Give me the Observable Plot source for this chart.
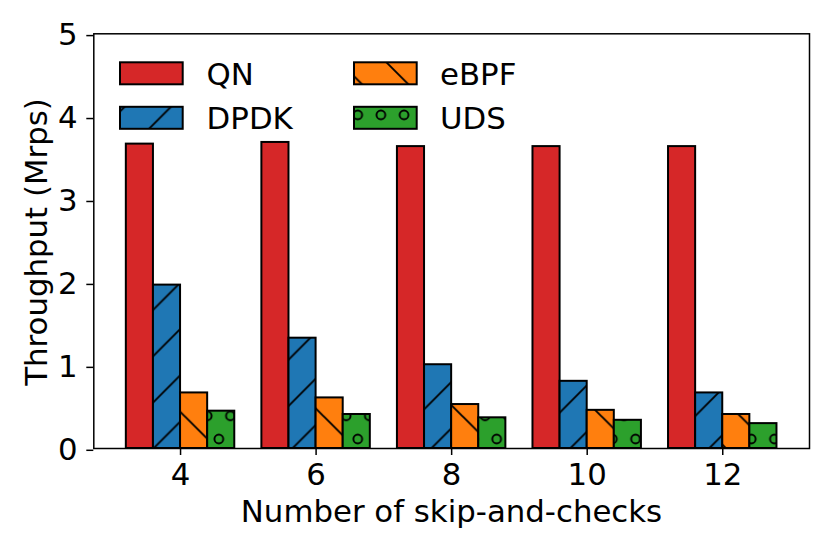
<!DOCTYPE html>
<html><head><meta charset="utf-8">
<script src="https://cdn.jsdelivr.net/npm/d3@7"></script>
<script src="https://cdn.jsdelivr.net/npm/@observablehq/plot@0.6"></script>
<style>html,body{margin:0;padding:0;background:#fff;} svg{display:block;}</style>
</head><body><div id="chart"></div>
<script>
const categories = ["4", "6", "8", "10", "12"];
const seriesNames = ["QN", "DPDK", "eBPF", "UDS"];
const qn   = [3.67, 3.69, 3.64, 3.64, 3.64];
const dpdk = [1.97, 1.33, 1.01, 0.81, 0.67];
const ebpf = [0.67, 0.61, 0.53, 0.46, 0.41];
const uds  = [0.45, 0.41, 0.37, 0.34, 0.30];
const yTicks = [0, 1, 2, 3, 4, 5];
const xLabel = "Number of skip-and-checks";
const yLabel = "Throughput (Mrps)";

const seriesValues = [qn, dpdk, ebpf, uds];
const colors = ["#d62728", "#1f77b4", "#ff7f0e", "#2ca02c"];
const hatches = ["", "/", "\\", "o"];

const rows = [];
seriesNames.forEach((s, si) => categories.forEach((c, ci) =>
  rows.push({cat: c, ci, series: s, si, value: seriesValues[si][ci]})));

const groupWidth = 0.8, bw = groupWidth / seriesNames.length;
const fillFor = si => hatches[si] ? `url(#hatch-${si})` : colors[si];
const FONT = "DejaVu Sans, sans-serif";
const FS = 30.8;

const plot = Plot.plot({
  width: 830, height: 554,
  marginLeft: 93.3, marginRight: 21, marginTop: 33.3, marginBottom: 106,
  style: {fontFamily: FONT, fontSize: FS + "px", background: "white", color: "black"},
  x: {domain: [-0.64, categories.length - 1 + 0.64]},
  y: {domain: [0, 5]},
  marks: [
    ...seriesNames.map((s, si) => Plot.rect(rows.filter(d => d.si === si), {
      x1: d => d.ci - groupWidth / 2 + d.si * bw,
      x2: d => d.ci - groupWidth / 2 + (d.si + 1) * bw,
      y1: d => 0,
      y2: "value",
      fill: fillFor(si), stroke: "black", strokeWidth: 2
    })),
    Plot.axisX({ticks: categories.map((c, i) => i), tickFormat: i => categories[i],
      tickSize: 7, tickPadding: 8, fontSize: FS, label: null, strokeWidth: 1.5}),
    Plot.axisY({ticks: yTicks, tickFormat: d => String(d), tickSize: 7, tickPadding: 9.3,
      fontSize: FS, label: null, dy: 1.8, strokeWidth: 1.5}),
    Plot.frame({stroke: "black", strokeWidth: 1.5})
  ]
});

const svg = d3.select(plot);
const defs = svg.insert("defs", ":first-child");
const S = 46.3, HW = 1.9;
// '/' hatch
{
  const p = defs.append("pattern").attr("id", "hatch-1").attr("patternUnits", "userSpaceOnUse")
    .attr("x", 0).attr("y", 0).attr("width", S).attr("height", S);
  p.append("rect").attr("width", S).attr("height", S).attr("fill", colors[1]);
  p.append("path").attr("d", `M0,${S}L${S},0M-2,2L2,-2M${S-2},${S+2}L${S+2},${S-2}`)
    .attr("stroke", "black").attr("stroke-width", HW).attr("fill", "none");
}
// '\' hatch
{
  const p = defs.append("pattern").attr("id", "hatch-2").attr("patternUnits", "userSpaceOnUse")
    .attr("x", 0).attr("y", 0).attr("width", S).attr("height", S);
  p.append("rect").attr("width", S).attr("height", S).attr("fill", colors[2]);
  p.append("path").attr("d", `M0,0L${S},${S}M${S-2},-2L${S+2},2M-2,${S-2}L2,${S+2}`)
    .attr("stroke", "black").attr("stroke-width", HW).attr("fill", "none");
}
// 'o' hatch
{
  const W = S / 2, H = S;
  const p = defs.append("pattern").attr("id", "hatch-3").attr("patternUnits", "userSpaceOnUse")
    .attr("x", 10.5).attr("y", 22.3).attr("width", W).attr("height", H);
  p.append("rect").attr("width", W).attr("height", H).attr("fill", colors[3]);
  [[0, 0], [W, 0], [0, H], [W, H], [W / 2, H / 2]].forEach(([cx, cy]) =>
    p.append("circle").attr("cx", cx).attr("cy", cy).attr("r", 4.4)
      .attr("fill", "none").attr("stroke", "black").attr("stroke-width", HW));
}

// Legend (inside axes, 2 columns)
const legendItems = seriesNames.map((s, si) => ({s, si, col: Math.floor(si / 2), row: si % 2}));
const colX = [120, 354], rowY = [62.3, 106.8], textX = [206.6, 440];
const lg = svg.append("g");
legendItems.forEach(it => {
  lg.append("rect").attr("x", colX[it.col]).attr("y", rowY[it.row]).attr("width", 62.7).attr("height", 22)
    .attr("fill", fillFor(it.si)).attr("stroke", "black").attr("stroke-width", 2);
  lg.append("text").attr("x", textX[it.col]).attr("y", rowY[it.row] + 22.2)
    .attr("text-anchor", "start")
    .attr("font-family", FONT).attr("font-size", FS).attr("fill", "black").text(it.s);
});

// Axis labels
svg.append("text").attr("x", 451.5).attr("y", 521.7).attr("text-anchor", "middle")
  .attr("font-family", FONT).attr("font-size", FS).attr("fill", "black").text(xLabel);
svg.append("text").attr("transform", "translate(47,242) rotate(-90)").attr("text-anchor", "middle")
  .attr("font-family", FONT).attr("font-size", FS).attr("fill", "black").text(yLabel);

document.getElementById("chart").append(plot);
</script>
</body></html>
